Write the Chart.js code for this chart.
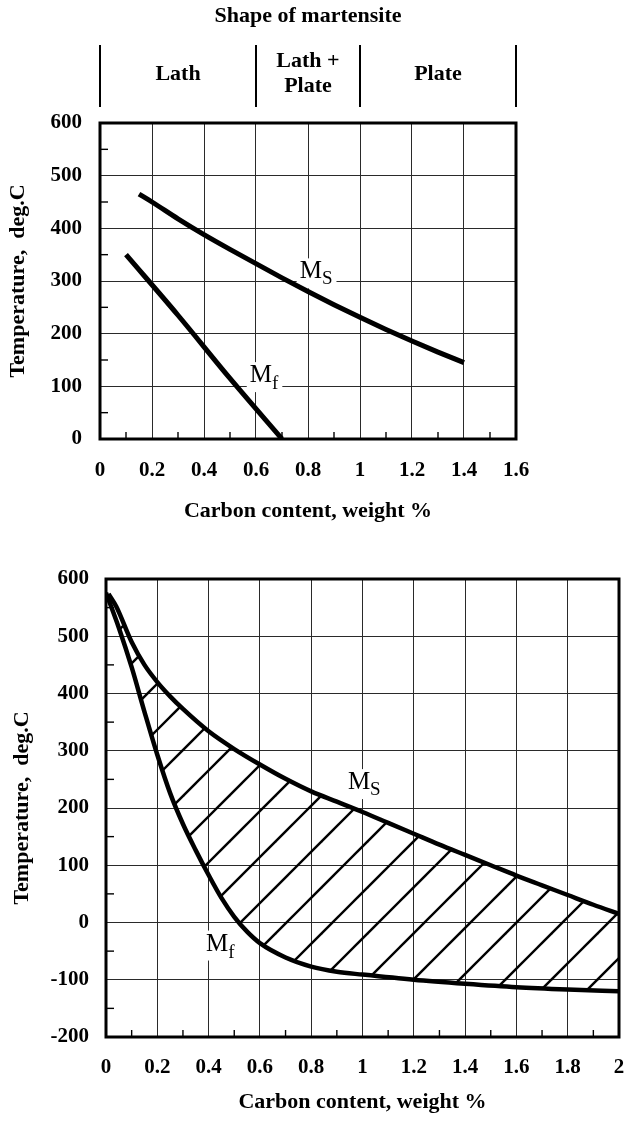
<!DOCTYPE html>
<html>
<head>
<meta charset="utf-8">
<script src="https://cdn.jsdelivr.net/npm/chart.js@4.4.1/dist/chart.umd.min.js"></script>
<style>
  html, body { margin: 0; padding: 0; background: #fff; overflow: hidden; }
  .panel { position: relative; width: 626px; }
  .panel canvas { display: block; }
  #top { height: 540px; }
  #bottom { height: 582px; }
</style>
</head>
<body>
<div class="panel" id="top"><canvas id="shapeChart"></canvas></div>
<div class="panel" id="bottom"><canvas id="rangeChart"></canvas></div>
<script>
// Upper panel: Ms / Mf vs carbon, with the martensite shape bands above it
const topMsCarbon = [0.15, 0.2, 0.3, 0.4, 0.5, 0.6, 0.7, 0.8, 0.9, 1.0, 1.1, 1.2, 1.3, 1.4];
const topMsTemp   = [465, 450, 418, 388, 360, 333, 306, 280, 255, 231, 208, 186, 165, 145];
const topMfCarbon = [0.1, 0.3, 0.5, 0.7];
const topMfTemp   = [350, 235, 115, 0];
const shapeBounds = [0, 0.6, 1.0, 1.6];
const shapeNames  = [['Lath'], ['Lath +', 'Plate'], ['Plate']];

// Lower panel: the whole Ms - Mf range up to 2 % C
const lowMsCarbon = [0.01, 0.04, 0.1, 0.15, 0.2, 0.25, 0.3, 0.4, 0.5, 0.6, 0.7, 0.8, 0.9, 1.0, 1.1, 1.2, 1.3, 1.4, 1.5, 1.6, 1.7, 1.8, 1.9, 2.0];
const lowMsTemp   = [574, 552, 490, 450, 420, 395, 373, 334, 303, 276, 251, 229, 211, 193, 174, 155, 136, 118, 100, 82, 65, 48, 31, 15];
const lowMfCarbon = [0.0, 0.05, 0.1, 0.15, 0.2, 0.25, 0.3, 0.35, 0.4, 0.45, 0.5, 0.55, 0.6, 0.7, 0.8, 0.9, 1.0, 1.2, 1.4, 1.6, 1.8, 2.0];
const lowMfTemp   = [576, 515, 446, 368, 293, 226, 172, 126, 83, 43, 10, -16, -36, -61, -77, -86, -91, -100, -107, -113, -117, -120];

const SERIF = '"Liberation Serif", "Times New Roman", serif';
Chart.defaults.font.family = SERIF;
Chart.defaults.color = '#000';

const pairs = (xs, ys) => xs.map((x, i) => ({ x, y: ys[i] }));

// Diagonal hatch tile; lines run x + y = phase (mod spacing)
function hatchPattern(ctx2d, spacing, phase, width) {
  const c = document.createElement('canvas');
  c.width = spacing;
  c.height = spacing;
  const g = c.getContext('2d');
  g.strokeStyle = '#000';
  g.lineWidth = width;
  for (let k = -1; k <= 2; k++) {
    const s = phase + k * spacing;
    g.beginPath();
    g.moveTo(-10, s + 10);
    g.lineTo(s + 10, -10);
    g.stroke();
  }
  return ctx2d.createPattern(c, 'repeat');
}

// Heavy frame round the plot plus short inward minor ticks
const framePlugin = {
  id: 'frame',
  beforeDatasetsDraw(chart) {
    const { ctx, chartArea: a, scales } = chart;
    ctx.save();
    ctx.strokeStyle = '#000';
    ctx.lineWidth = 1.4;
    const ys = scales.y.ticks;
    for (let i = 0; i < ys.length - 1; i++) {
      const p = scales.y.getPixelForValue((ys[i].value + ys[i + 1].value) / 2);
      ctx.beginPath();
      ctx.moveTo(a.left, p);
      ctx.lineTo(a.left + 8, p);
      ctx.stroke();
    }
    const xs = scales.x.ticks;
    for (let i = 0; i < xs.length - 1; i++) {
      const p = scales.x.getPixelForValue((xs[i].value + xs[i + 1].value) / 2);
      ctx.beginPath();
      ctx.moveTo(p, a.bottom);
      ctx.lineTo(p, a.bottom - 7);
      ctx.stroke();
    }
    ctx.lineWidth = 3;
    ctx.strokeRect(a.left, a.top, a.right - a.left, a.bottom - a.top);
    ctx.restore();
  },
};

// "M" with a subscript letter, on a white patch
const curveLabelPlugin = {
  id: 'curveLabels',
  beforeDatasetsDraw(chart, args, opts) {
    const { ctx, scales } = chart;
    ctx.save();
    (opts.items || []).forEach(it => {
      const x = scales.x.getPixelForValue(it.x);
      const y = scales.y.getPixelForValue(it.y);
      ctx.font = '25px ' + SERIF;
      const mW = ctx.measureText('M').width;
      ctx.font = '19px ' + SERIF;
      const sW = ctx.measureText(it.sub).width;
      ctx.fillStyle = '#fff';
      ctx.fillRect(x - 3, y - 20, mW + sW + 7, 30);
      ctx.fillStyle = '#000';
      ctx.textBaseline = 'alphabetic';
      ctx.textAlign = 'left';
      ctx.font = '25px ' + SERIF;
      ctx.fillText('M', x, y);
      ctx.font = '19px ' + SERIF;
      ctx.fillText(it.sub, x + mW, y + it.drop);
    });
    ctx.restore();
  },
};

// Shape-of-martensite bands over the upper plot
const shapeHeaderPlugin = {
  id: 'shapeHeader',
  afterDraw(chart) {
    const { ctx, chartArea: a, scales } = chart;
    ctx.save();
    ctx.fillStyle = '#000';
    ctx.strokeStyle = '#000';
    ctx.textAlign = 'center';
    ctx.textBaseline = 'middle';
    ctx.font = 'bold 22px ' + SERIF;
    ctx.fillText('Shape of martensite', (a.left + a.right) / 2, 16);
    ctx.lineWidth = 2;
    const px = shapeBounds.map(v => scales.x.getPixelForValue(v));
    px.forEach(p => {
      ctx.beginPath();
      ctx.moveTo(p, 45);
      ctx.lineTo(p, 107);
      ctx.stroke();
    });
    shapeNames.forEach((lines, i) => {
      const cx = (px[i] + px[i + 1]) / 2;
      const y0 = lines.length === 1 ? 74 : 61;
      lines.forEach((t, j) => ctx.fillText(t, cx, y0 + j * 25));
    });
    ctx.restore();
  },
};

// Fixed-size axes: the plot box is set by layout padding alone
function axisOpts(min, max, step, tickPad, title, titlePad, fixed, horizontal) {
  return {
    type: 'linear',
    min, max,
    afterFit: s => {
      if (horizontal) s.height = fixed; else s.width = fixed;
      s.paddingLeft = s.paddingRight = s.paddingTop = s.paddingBottom = 0;
    },
    border: { display: false },
    grid: { color: '#2a2a2a', lineWidth: 1, drawTicks: false },
    ticks: {
      stepSize: step,
      padding: tickPad,
      font: { size: 21, weight: 'bold' },
      color: '#000',
      callback: v => String(Math.round(v * 100) / 100),
    },
    title: {
      display: true,
      text: title,
      font: { size: 22, weight: 'bold' },
      color: '#000',
      padding: horizontal ? { top: 0, bottom: titlePad } : { top: titlePad, bottom: 0 },
    },
  };
}

const lineStyle = {
  borderColor: '#000',
  pointRadius: 0,
  cubicInterpolationMode: 'monotone',
  fill: false,
};

const baseOptions = {
  responsive: true,
  maintainAspectRatio: false,
  animation: false,
  events: [],
  plugins: { legend: { display: false }, tooltip: { enabled: false } },
};

// Upper chart
new Chart(document.getElementById('shapeChart'), {
  type: 'line',
  data: {
    datasets: [
      { ...lineStyle, label: 'Ms', data: pairs(topMsCarbon, topMsTemp), borderWidth: 5 },
      { ...lineStyle, label: 'Mf', data: pairs(topMfCarbon, topMfTemp), borderWidth: 5 },
    ],
  },
  options: {
    ...baseOptions,
    layout: { autoPadding: false, padding: { top: 123, right: 110, left: 0, bottom: 0 } },
    scales: {
      x: axisOpts(0, 1.6, 0.2, 19, 'Carbon content, weight %', 15, 101, true),
      y: axisOpts(0, 600, 100, 18, 'Temperature,  deg.C', 5, 100, false),
    },
    plugins: {
      ...baseOptions.plugins,
      curveLabels: {
        items: [
          { x: 0.768, y: 305, sub: 'S', drop: 6 },
          { x: 0.576, y: 108, sub: 'f', drop: 7 },
        ],
      },
    },
  },
  plugins: [framePlugin, curveLabelPlugin, shapeHeaderPlugin],
});

// Lower chart, Ms-Mf band hatched
const rangeCanvas = document.getElementById('rangeChart');
const hatch = hatchPattern(rangeCanvas.getContext('2d'), 46, 25, 2.4);

new Chart(rangeCanvas, {
  type: 'line',
  data: {
    datasets: [
      { ...lineStyle, label: 'Ms', data: pairs(lowMsCarbon, lowMsTemp), borderWidth: 4.5,
        fill: '+1', backgroundColor: hatch },
      { ...lineStyle, label: 'Mf', data: pairs(lowMfCarbon, lowMfTemp), borderWidth: 4.5 },
    ],
  },
  options: {
    ...baseOptions,
    layout: { autoPadding: false, padding: { top: 39, right: 7, left: 0, bottom: 0 } },
    scales: {
      x: axisOpts(0, 2, 0.2, 18, 'Carbon content, weight %', 6, 85, true),
      y: axisOpts(-200, 600, 100, 17, 'Temperature,  deg.C', 9, 106, false),
    },
    plugins: {
      ...baseOptions.plugins,
      curveLabels: {
        items: [
          { x: 0.943, y: 233, sub: 'S', drop: 6 },
          { x: 0.39, y: -49, sub: 'f', drop: 7 },
        ],
      },
    },
  },
  plugins: [framePlugin, curveLabelPlugin],
});
</script>
</body>
</html>
